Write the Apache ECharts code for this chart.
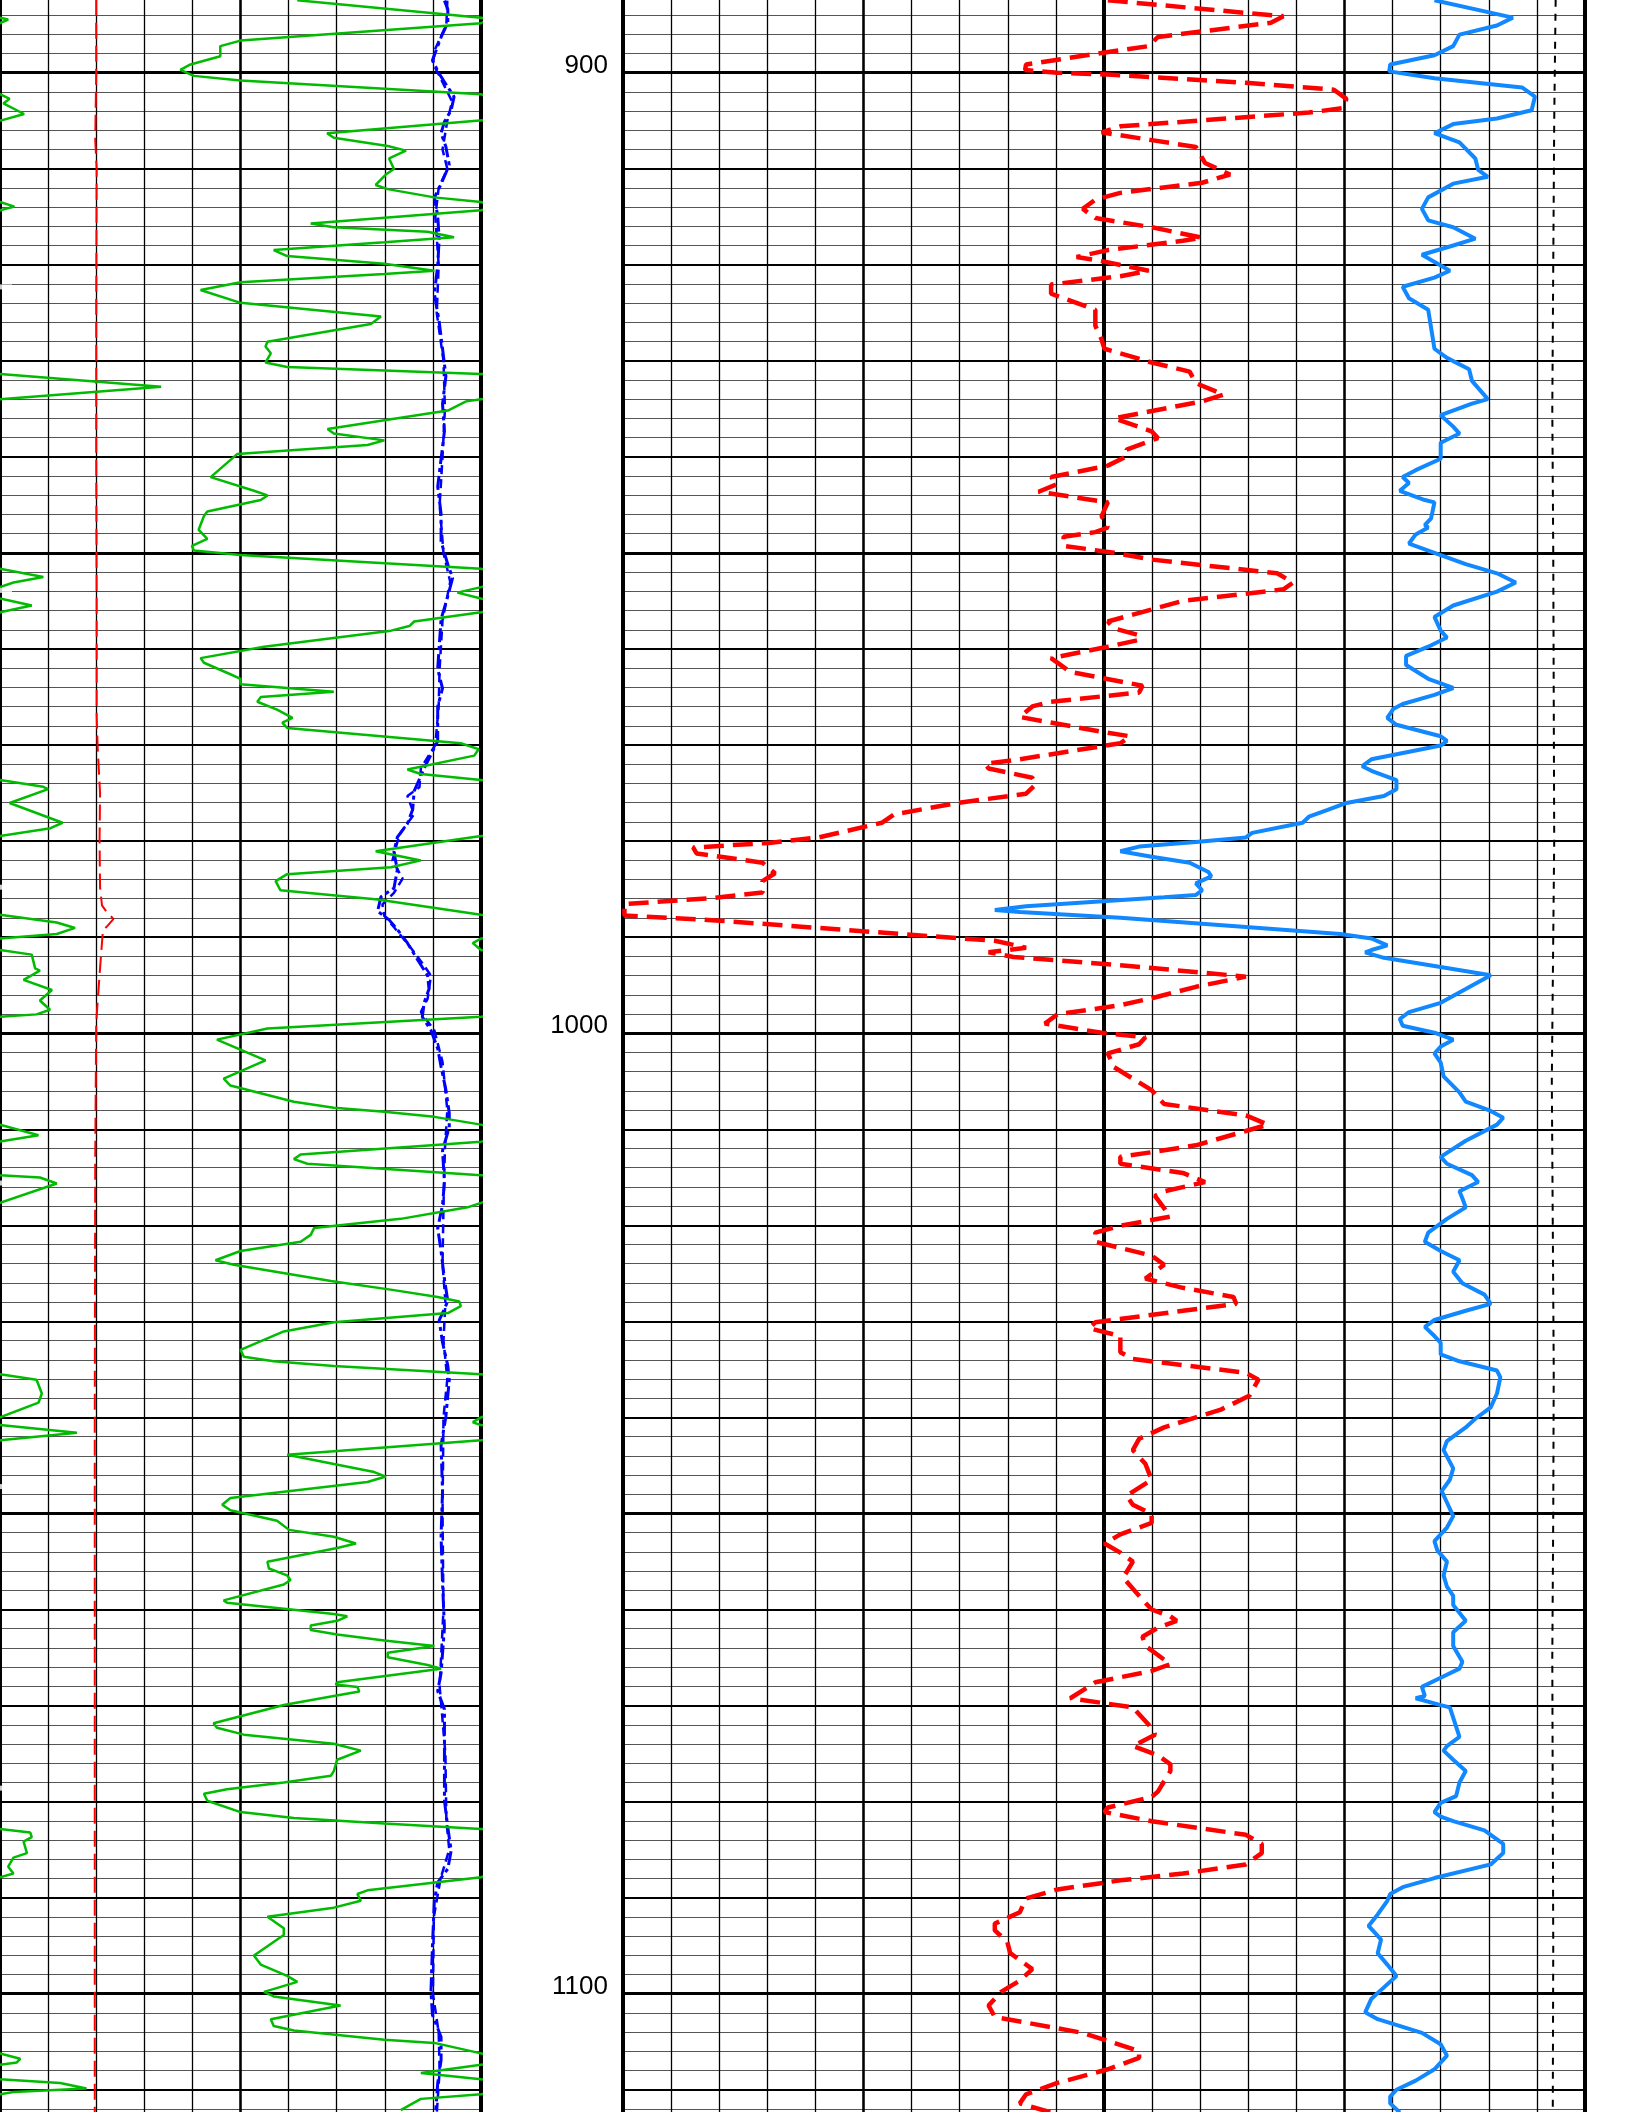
<!DOCTYPE html>
<html>
<head>
<meta charset="utf-8">
<script src="https://cdn.jsdelivr.net/npm/echarts@6/dist/echarts.min.js"></script>
<style>
  html, body { margin: 0; padding: 0; background: #fff; }
  #chart { width: 1632px; height: 2112px; }
</style>
</head>
<body>
<div id="chart"></div>
<script>
// [depth, value] — left track 0..10 (green wraps past 10), right track 0..20
const greenCurve = [
  [892.46,6.18],[894.27,10.0],[894.46,10.17],[894.84,10.0],[896.66,5.0],[897.23,4.58],[898.28,4.58],[899.14,3.96],[899.71,3.75],[900.33,4.03],[900.81,5.0],
  [902.24,10.0],[902.72,10.2],[903.2,10.07],[904.3,10.5],[904.96,10.03],[905.11,10.0],[906.3,6.8],[906.78,6.94],[907.64,8.06],[908.11,8.44],[908.93,8.09],
  [910.02,8.19],[910.6,8.02],[911.69,7.81],[912.12,8.06],[912.98,9.03],[913.46,10.0],[913.94,10.3],[914.32,10.0],[915.7,6.46],[916.09,6.94],[916.56,8.89],
  [917.14,9.44],[917.66,7.99],[918.47,5.69],[919.09,5.97],[919.9,7.99],[920.62,9.03],[920.95,7.99],[921.81,5.0],[922.63,4.17],[923.96,5.0],[925.39,7.92],
  [926.16,7.71],[928.02,5.56],[928.5,5.52],[929.21,5.63],[930.17,5.52],[930.64,5.97],[931.36,10.0],[932.7,13.35],[933.99,10.0],[934.22,9.69],[935.18,9.31],
  [937.09,6.81],[937.57,6.94],[938.28,7.99],[938.76,7.64],[939.71,4.93],[942.1,4.38],[943.53,5.28],[944.01,5.56],[944.49,5.42],[945.68,4.31],[946.16,4.24],
  [947.59,4.13],[948.54,4.31],[949.26,3.99],[949.74,4.03],[950.21,5.0],[951.65,10.0],[952.51,10.9],[953.08,10.28],[953.56,10.0],[954.13,9.51],[954.75,10.0],
  [955.47,10.66],[956.18,10.0],[957.14,8.61],[957.61,8.51],[958.09,8.13],[959.76,5.49],[960.95,4.17],[961.43,4.24],[962.63,4.79],[963.1,5.0],[963.68,5.0],
  [964.44,6.94],[965.01,5.42],[965.49,5.35],[966.32,5.76],[967.18,6.08],[967.66,5.87],[968.23,5.97],[969.81,9.58],[970.43,9.95],[971.1,9.86],[972.54,8.47],
  [973.01,8.75],[973.64,10.0],[974.35,10.9],[974.59,11.0],[976.03,10.2],[978.09,11.3],[978.66,11.05],[979.47,10.0],[981.05,7.81],[982.01,8.75],[982.73,8.13],
  [983.44,5.97],[984.16,5.73],[985.12,5.83],[986.08,7.85],[987.66,10.0],[988.47,11.18],[989.04,11.56],[989.67,11.18],[990.14,10.0],[990.62,9.83],[991.34,10.0],
  [991.82,10.66],[993.25,10.73],[993.49,10.83],[994.45,10.49],[995.5,11.08],[996.6,10.83],[997.56,11.04],[998.04,10.76],[998.28,10.0],[999.52,5.56],
  [1000.67,4.51],[1002.82,5.52],[1004.74,4.65],[1005.45,4.79],[1007.13,6.11],[1007.75,6.94],[1008.18,7.99],[1008.71,9.03],[1009.52,10.0],[1010.62,10.8],
  [1011.29,10.0],[1012.63,6.25],[1013.11,6.11],[1013.59,6.39],[1014.78,10.0],[1015.02,10.83],[1015.65,11.18],[1017.66,10.0],[1018.13,9.72],[1019.33,8.33],
  [1020.29,6.53],[1021.0,6.46],[1021.72,6.25],[1022.68,5.0],[1023.64,4.48],[1024.11,4.86],[1025.79,6.88],[1026.75,8.19],[1027.46,9.1],[1027.94,9.55],
  [1028.42,9.58],[1029.14,9.31],[1030.1,6.94],[1031.05,5.9],[1032.97,5.0],[1033.68,5.07],[1034.16,5.69],[1034.64,6.94],[1035.5,10.0],[1036.08,10.76],
  [1037.51,10.87],[1038.47,10.8],[1040.0,10.0],[1040.5,9.83],[1040.8,10.0],[1041.6,11.6],[1042.37,10.0],[1043.89,5.97],[1045.69,7.78],[1046.16,8.02],
  [1046.73,7.64],[1048.39,4.79],[1049.1,4.62],[1049.67,4.79],[1050.76,5.76],[1051.71,6.01],[1052.42,6.94],[1053.13,7.4],[1053.6,7.01],[1055.02,5.56],
  [1055.73,5.59],[1056.45,5.97],[1056.92,6.04],[1057.39,5.9],[1059.05,4.65],[1059.29,4.72],[1060.47,6.94],[1060.71,7.22],[1061.18,7.01],[1061.66,6.46],
  [1062.13,6.46],[1062.61,7.01],[1063.22,7.99],[1063.79,9.03],[1064.5,8.06],[1064.98,8.06],[1065.78,8.89],[1066.16,9.17],[1067.58,7.01],[1067.82,6.98],
  [1068.06,7.43],[1068.53,7.47],[1069.0,6.94],[1069.95,5.9],[1071.85,4.44],[1072.32,4.51],[1073.03,5.07],[1073.98,6.94],[1074.69,7.5],[1075.64,7.01],
  [1076.82,6.94],[1077.3,6.88],[1078.01,5.9],[1078.72,4.72],[1079.19,4.24],[1079.91,4.31],[1081.09,5.0],[1081.71,6.11],[1082.27,7.99],[1082.84,10.0],
  [1083.22,10.63],[1083.7,10.66],[1084.17,10.49],[1085.36,10.56],[1085.83,10.28],[1086.78,10.17],[1087.49,10.28],[1087.87,10.0],[1089.24,7.64],[1089.62,7.43],
  [1090.33,7.5],[1091.04,6.94],[1091.99,5.56],[1093.18,5.9],[1093.89,5.9],[1096.02,5.28],[1096.97,5.42],[1098.15,5.97],[1098.77,6.18],[1099.81,5.49],
  [1100.28,5.69],[1101.23,7.08],[1102.65,5.63],[1103.36,5.69],[1103.84,6.11],[1104.79,7.99],[1105.12,9.03],[1106.21,10.0],[1106.78,10.42],[1107.16,10.35],
  [1107.39,10.0],[1108.25,8.75],[1108.91,10.0],[1109.29,11.25],[1109.86,11.8],[1110.24,10.28],[1110.47,10.0],[1110.95,8.75],[1112.13,8.33]
];

const redLeft = [
  [892.4,2.0],[900,2.0],[907,1.98],[910,2.01],[925,2.0],[940,2.0],[955,2.01],[967,2.01],[970.2,2.03],[975,2.08],[980,2.07],[984.8,2.08],
  [986.7,2.12],[987.4,2.22],[988.1,2.36],[988.8,2.24],[989.3,2.14],[991.9,2.1],[996.7,2.03],[999,2.0],[1013,1.98],[1040,1.97],[1080,1.97],[1112.5,1.97]
];

const blueLeftA = [
  [892.5,9.24],[893.4,9.31],[894.8,9.31],[896.3,9.17],[898.7,8.99],[900.1,9.13],[901.5,9.31],[902.5,9.44],[903.9,9.38],[905.1,9.24],[906.3,9.17],
  [907.7,9.27],[909.6,9.34],[911.6,9.17],[913.0,9.03],[914.9,9.1],[917.3,9.13],[920.1,9.1],[923.0,9.03],[925.9,9.13],[928.7,9.2],[931.6,9.27],
  [934.5,9.2],[937.3,9.24],[940.2,9.17],[943.1,9.1],[945.9,9.17],[948.8,9.17],[951.2,9.31],[952.6,9.41],[954.5,9.31],[956.9,9.17],[959.8,9.13],
  [962.1,9.1],[964.1,9.2],[966.0,9.1],[969.6,9.1],[971.0,8.96],[972.4,8.82],[974.8,8.61],[976.7,8.58],[978.2,8.47],[979.6,8.26],[981.1,8.19],
  [983.0,8.26],[984.9,8.19],[985.8,7.92],[987.3,7.85],[988.2,8.09],[989.2,8.26],[990.6,8.47],[992.1,8.65],[994.0,8.89],[995.4,8.92],[996.8,8.82],
  [998.3,8.78],[999.7,8.96],[1001.6,9.1],[1003.5,9.17],[1005.9,9.27],[1008.3,9.34],[1009.8,9.34],[1012.2,9.2],[1015.5,9.24],[1017.9,9.2],[1020.3,9.1],
  [1022.7,9.17],[1025.6,9.24],[1027.9,9.31],[1029.9,9.13],[1032.2,9.2],[1034.6,9.31],[1036.1,9.34],[1039.9,9.27],[1042.9,9.17],[1047.7,9.2],
  [1052.4,9.17],[1057.2,9.2],[1061.9,9.24],[1066.6,9.17],[1068.5,9.1],[1070.4,9.24],[1076.1,9.24],[1079.9,9.24],[1082.7,9.31],[1085.1,9.38],
  [1087.0,9.31],[1088.4,9.1],[1090.3,9.03],[1095.1,8.99],[1099.8,8.96],[1102.2,8.99],[1104.5,9.17],[1106.9,9.17],[1109.3,9.1],[1112.1,9.06]
];

const blueLeftB = [
  [892.5,9.3],[895,9.28],[897.5,9.05],[899,9.0],[901,9.2],[903,9.4],[905,9.3],[908,9.2],[910,9.3],[912,9.12],[915,9.05],[920,9.12],[925,9.08],
  [930,9.22],[935,9.25],[940,9.2],[945,9.14],[950,9.22],[953,9.36],[957,9.2],[962,9.14],[966,9.12],[970,9.05],[972.4,8.75],[974.4,8.72],[975.3,8.47],
  [977.2,8.61],[979.1,8.33],[980.1,8.26],[982.0,8.16],[983.9,8.37],[985.4,8.19],[986.6,7.95],[987.8,7.99],[989.2,8.23],[991.1,8.54],[992.5,8.75],
  [994.0,8.96],[996.4,8.89],[997.8,8.75],[999.7,9.03],[1003,9.2],[1008,9.3],[1012,9.25],[1018,9.22],[1024,9.2],[1028,9.26],[1032,9.22],[1036,9.3],
  [1040,9.22],[1050,9.2],[1060,9.22],[1068,9.14],[1075,9.26],[1082,9.28],[1085,9.34],[1088,9.16],[1092,9.02],[1100,9.0],[1104,9.12],[1108,9.14],[1112.5,9.08]
];

const redRight = [
  [892.46,10.08],[894.13,13.73],[894.8,13.47],[896.28,11.12],[897.23,10.93],[897.95,9.95],[899.14,8.38],[899.71,8.36],[900.0,9.03],[900.19,10.08],
  [901.05,12.95],[901.77,14.78],[902.72,15.04],[903.68,14.97],[904.15,14.26],[905.58,10.34],[906.21,9.95],[907.02,10.99],[907.73,11.91],[909.4,12.1],
  [910.6,12.62],[911.46,12.04],[912.51,10.34],[913.22,9.82],[914.18,9.56],[915.13,9.82],[916.09,10.99],[917.18,12.04],[917.5,11.64],[918.47,10.08],
  [919.19,9.43],[919.67,10.01],[920.62,10.93],[921.19,10.34],[922.05,8.9],[923.01,8.9],[924.68,9.82],[926.35,9.82],[927.78,9.95],[928.74,10.01],
  [930.17,10.99],[931.12,11.78],[932.32,11.91],[933.51,12.49],[934.22,12.04],[935.99,10.21],[937.33,10.99],[938.04,11.12],[939.24,10.47],[939.95,10.47],
  [940.91,10.08],[942.1,8.9],[942.82,9.03],[943.63,8.64],[944.73,10.08],[946.16,9.95],[947.35,10.08],[947.83,9.82],[948.31,9.16],[949.26,9.16],
  [949.98,10.21],[950.69,10.99],[952.12,13.6],[953.08,13.93],[953.79,13.73],[954.99,11.64],[957.14,10.08],[957.85,10.21],[958.57,10.73],[959.05,10.73],
  [959.76,10.08],[960.95,8.9],[962.39,9.3],[963.82,10.8],[964.53,10.73],[965.49,8.9],[965.98,8.51],[967.08,8.25],[968.61,9.95],[969.09,10.54],
  [969.81,10.34],[971.48,8.25],[971.96,7.53],[972.44,7.6],[973.4,8.51],[974.11,8.58],[975.07,8.38],[976.03,6.95],[977.22,5.64],[978.09,5.38],
  [979.62,4.07],[980.19,3.03],[980.67,1.46],[981.29,1.53],[982.25,2.9],[983.35,3.16],[984.16,2.9],[985.36,2.9],[985.93,1.85],[986.56,0.03],
  [987.75,0.03],[988.23,1.85],[989.43,5.12],[990.38,7.73],[991.1,8.38],[991.58,7.6],[992.06,8.12],[992.92,10.34],[994.11,12.95],[995.17,11.91],
  [996.36,10.99],[997.08,10.34],[998.04,9.03],[999.0,8.77],[999.95,9.95],[1000.43,10.86],[1001.15,10.73],[1002.11,10.08],[1003.54,10.21],[1005.93,10.99],
  [1007.37,11.25],[1008.56,12.95],[1009.52,13.41],[1011.67,11.91],[1012.39,10.99],[1012.87,10.34],[1013.59,10.34],[1014.55,11.64],[1015.5,12.1],
  [1016.46,11.25],[1016.94,11.06],[1019.09,11.38],[1020.05,10.34],[1020.77,9.82],[1021.72,9.82],[1023.16,10.99],[1024.11,11.25],[1025.55,10.86],
  [1026.51,11.64],[1027.46,12.69],[1028.18,12.75],[1028.9,11.64],[1030.1,9.82],[1030.72,9.69],[1031.53,10.34],[1033.21,10.34],[1033.92,10.6],
  [1035.36,12.95],[1036.08,13.21],[1037.75,13.02],[1039.19,12.43],[1040.0,11.91],[1041.04,11.25],[1042.23,10.73],[1043.41,10.6],[1044.83,10.86],
  [1046.49,10.99],[1048.15,10.47],[1049.1,10.6],[1050.05,10.99],[1050.99,10.99],[1052.18,10.34],[1053.13,10.01],[1054.08,10.34],[1055.02,10.6],
  [1056.68,10.4],[1058.58,10.73],[1060.0,10.99],[1060.71,11.38],[1061.18,11.51],[1061.9,11.12],[1062.84,10.8],[1063.79,10.86],[1064.74,11.12],
  [1065.69,11.38],[1066.4,10.99],[1067.58,9.82],[1069.24,9.3],[1069.72,9.95],[1070.19,10.6],[1070.9,10.73],[1072.32,10.99],[1073.03,11.06],
  [1074.22,10.6],[1075.17,11.12],[1076.11,11.38],[1076.82,11.38],[1078.96,11.12],[1079.53,10.99],[1080.62,10.08],[1081.09,10.01],[1082.04,10.99],
  [1083.46,12.95],[1084.41,13.28],[1085.36,13.28],[1086.54,12.95],[1087.49,11.64],[1088.2,10.34],[1089.15,9.03],[1090.09,8.38],[1091.52,8.25],
  [1092.7,7.73],[1093.41,7.73],[1094.6,7.99],[1095.78,8.05],[1097.44,8.51],[1098.63,8.25],[1099.81,7.86],[1101.23,7.6],[1102.42,7.73],[1104.08,9.56],
  [1105.97,10.73],[1106.68,10.73],[1107.87,10.08],[1109.29,9.03],[1110.47,8.38],[1111.42,8.25],[1112.37,8.9]
];

const blueRight = [
  [892.46,16.87],[894.27,18.5],[895.08,18.17],[896.04,17.39],[897.23,17.26],[898.19,16.87],[899.14,15.95],[899.86,15.93],[900.57,16.87],[901.53,18.69],
  [902.48,18.96],[903.91,18.89],[904.77,18.17],[905.35,17.26],[906.3,16.87],[907.26,17.39],[908.93,17.72],[910.12,17.78],[910.84,17.98],[911.55,17.26],
  [912.98,16.74],[914.18,16.61],[915.37,16.74],[916.09,17.26],[917.28,17.72],[917.99,17.26],[918.95,16.61],[920.62,17.19],[921.34,16.87],[922.29,16.21],
  [923.48,16.34],[924.68,16.74],[928.74,16.87],[929.69,17.13],[930.88,17.59],[932.08,17.65],[933.99,17.98],[934.46,17.65],[935.66,17.0],[936.85,17.26],
  [937.57,17.39],[938.52,17.0],[940.19,17.0],[941.38,16.48],[942.1,16.21],[942.72,16.34],[943.53,16.15],[944.49,16.67],[944.73,16.87],[946.4,16.8],
  [947.11,16.67],[947.35,16.74],[948.07,16.48],[949.02,16.34],[949.98,16.87],[951.17,17.52],[952.12,18.17],[953.08,18.56],[954.03,18.17],[955.47,17.26],
  [956.66,16.87],[958.09,17.0],[958.81,17.13],[959.76,16.74],[960.72,16.28],[961.67,16.28],[963.1,16.74],[964.06,17.26],[964.77,16.87],[965.73,16.21],
  [966.22,16.02],[967.18,15.89],[967.89,16.08],[969.09,17.0],[969.57,17.13],[970.05,17.0],[971.48,15.56],[972.2,15.37],[972.68,15.56],[973.64,16.08],
  [974.59,16.08],[975.31,15.82],[976.03,15.04],[976.75,14.65],[977.46,14.26],[978.09,14.13],[979.14,13.08],[979.62,12.95],[980.1,11.91],[980.57,10.73],
  [981.05,10.34],[981.63,10.99],[982.25,11.78],[983.21,12.17],[983.68,12.23],[984.4,11.91],[985.12,12.04],[985.6,11.91],[985.84,11.25],[986.79,8.38],
  [987.18,7.73],[987.37,8.25],[987.99,10.34],[988.95,12.95],[989.67,14.91],[990.14,15.56],[990.86,15.89],[991.34,15.56],[991.58,15.43],[992.15,15.82],
  [993.01,16.87],[993.97,18.04],[995.41,17.52],[996.84,17.0],[997.8,16.34],[998.52,16.15],[999.23,16.21],[999.95,16.87],[1000.67,17.26],[1001.39,17.0],
  [1002.11,16.87],[1003.06,17.0],[1004.5,17.06],[1006.17,17.39],[1007.13,17.52],[1008.09,18.04],[1008.8,18.3],[1009.52,18.17],[1011.2,17.52],
  [1012.87,17.0],[1013.59,17.13],[1014.78,17.65],[1015.5,17.78],[1016.46,17.39],[1017.18,17.45],[1018.13,17.52],[1019.33,17.13],[1020.77,16.74],
  [1021.72,16.67],[1022.68,17.0],[1023.64,17.39],[1024.83,17.26],[1026.03,17.45],[1027.22,17.91],[1028.18,18.04],[1028.9,17.52],[1029.86,16.87],
  [1030.57,16.67],[1031.53,16.87],[1032.25,17.0],[1033.44,17.0],[1034.16,17.39],[1035.12,18.17],[1035.84,18.24],[1037.51,18.17],[1038.95,18.04],
  [1040.14,17.72],[1041.04,17.52],[1042.46,17.13],[1043.41,17.06],[1045.31,17.26],[1046.49,17.19],[1047.68,17.02],[1048.86,17.13],[1050.28,17.26],
  [1051.47,17.13],[1052.89,16.87],[1053.84,16.93],[1055.02,17.13],[1056.45,17.06],[1057.63,17.13],[1058.58,17.26],[1059.53,17.26],[1061.18,17.52],
  [1062.37,17.26],[1063.79,17.26],[1065.45,17.45],[1066.16,17.39],[1067.11,17.0],[1068.06,16.61],[1069.0,16.67],[1069.24,16.48],[1069.95,17.0],
  [1070.19,17.19],[1073.27,17.39],[1074.22,17.13],[1074.69,17.06],[1075.64,17.26],[1076.82,17.52],[1078.01,17.39],[1079.43,17.32],[1080.14,17.0],
  [1081.09,16.87],[1081.56,17.0],[1082.04,17.26],[1082.99,17.91],[1084.41,18.3],[1085.36,18.3],[1086.54,18.04],[1087.96,16.87],[1088.91,16.21],
  [1089.62,15.95],[1090.33,15.89],[1091.75,15.69],[1092.94,15.5],[1093.65,15.63],[1094.36,15.76],[1095.78,15.69],[1096.97,15.89],[1098.15,16.08],
  [1099.34,15.82],[1100.52,15.56],[1101.94,15.43],[1102.65,15.69],[1104.08,16.61],[1105.26,17.0],[1106.45,17.13],[1107.87,16.87],[1109.05,16.48],
  [1110.0,16.08],[1110.71,15.95],[1111.42,15.95],[1112.37,16.15]
];

const dottedRight = [
  [892.4,19.39],[905,19.36],[920,19.34],[935,19.32],[950,19.34],[965,19.35],[980,19.36],[990,19.34],[1005,19.31],[1020,19.33],
  [1035,19.35],[1050,19.34],[1065,19.32],[1080,19.33],[1095,19.34],[1112.5,19.33]
];

// white ticks on the left border
const edgeTicks = [922.3, 953.9, 984.8, 1015.6, 1047.2, 1078.6];

const depthMin = 850, depthMax = 1150;
const pxPerUnit = 9.605;
const gridTop = 72.7 - (900 - depthMin) * pxPerUnit;
const gridHeight = (depthMax - depthMin) * pxPerUnit;

let chart = echarts.init(document.getElementById('chart'));

let grids = [], xAxes = [], yAxes = [];
// [left, width, xMax] for left and right track
const tracks = [[0, 481, 10], [623, 962, 20]];
const xLevels = [[1, 1.3, '#000'], [5, 2.5, '#000'], [10, 4, '#000']];
const yLevels = [[2, 1, '#555'], [10, 2, '#000'], [50, 3, '#000']];

tracks.forEach((t, ti) => {
  for (let k = 0; k < 3; k++) {
    grids.push({
      left: t[0], width: t[1], top: gridTop, height: gridHeight,
      containLabel: false, outerBoundsMode: 'none'
    });
    let gi = grids.length - 1;
    xAxes.push({
      gridIndex: gi, type: 'value', min: 0, max: t[2], interval: xLevels[k][0],
      axisLine: { show: false }, axisTick: { show: false }, axisLabel: { show: false },
      splitLine: { show: true, showMinLine: true, showMaxLine: true, lineStyle: { color: xLevels[k][2], width: xLevels[k][1] } }
    });
    let showLabel = (ti === 1 && k === 2);
    yAxes.push({
      gridIndex: gi, type: 'value', inverse: true, min: depthMin, max: depthMax, interval: yLevels[k][0],
      axisLine: { show: false }, axisTick: { show: false },
      axisLabel: {
        show: showLabel, margin: 15, fontSize: 26, fontFamily: 'Liberation Sans', color: '#000',
        verticalAlign: 'bottom', lineHeight: 14,
        formatter: v => (v % 100 === 0 ? String(v) : '')
      },
      splitLine: { show: true, lineStyle: { color: yLevels[k][2], width: yLevels[k][1] } }
    });
  }
});

function curve(data, axis, style, offset) {
  return {
    type: 'line', xAxisIndex: axis, yAxisIndex: axis, symbol: 'none', clip: true,
    data: data.map(p => [p[1] - (offset || 0), p[0]]),
    lineStyle: style, z: 3
  };
}

let option = {
  backgroundColor: '#fff',
  animation: false,
  grid: grids,
  xAxis: xAxes,
  yAxis: yAxes,
  series: [
    curve(redLeft, 0, { color: '#ff0000', width: 2, type: [16, 7] }),
    curve(blueLeftB, 0, { color: '#0000ff', width: 2.5, type: [9, 5] }),
    curve(blueLeftA, 0, { color: '#0000ff', width: 3, type: [14, 4, 4, 4] }),
    curve(greenCurve, 0, { color: '#00bb00', width: 2.5 }),
    curve(greenCurve, 0, { color: '#00bb00', width: 2.5 }, 10),
    {
      type: 'scatter', xAxisIndex: 0, yAxisIndex: 0, symbol: 'rect', symbolSize: [24, 5],
      itemStyle: { color: '#fff' }, z: 5, silent: true,
      data: edgeTicks.map(d => [0, d])
    },
    curve(dottedRight, 3, { color: '#000', width: 2, type: [7, 7] }),
    curve(blueRight, 3, { color: '#1188ff', width: 4 }),
    curve(redRight, 3, { color: '#ff0000', width: 4.5, type: [20, 9] })
  ]
};

chart.setOption(option);
</script>
</body>
</html>
